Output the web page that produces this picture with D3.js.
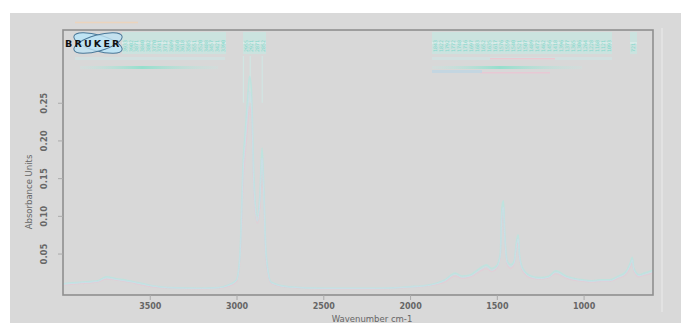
<!DOCTYPE html>
<html><head><meta charset="utf-8">
<script src="https://cdn.jsdelivr.net/npm/d3@7"></script>
<style>html,body{margin:0;padding:0;background:#fff;}svg{display:block;}</style>
</head><body>
<svg id="c" width="686" height="323"></svg>
<script>
// ---- data ----
const wavenumbers = [4000,3900,3800,3750,3700,3600,3500,3400,3200,3100,3050,3000,2980,2960,2950,2935,2925,2915,2900,2880,2865,2853,2845,2830,2800,2700,2500,2200,2000,1900,1800,1740,1700,1650,1600,1560,1530,1500,1480,1470,1462,1455,1440,1420,1400,1385,1377,1370,1350,1300,1250,1200,1160,1100,1000,950,900,850,800,760,730,720,710,680,650,600];
const sampleA = [0.010,0.012,0.014,0.019,0.017,0.013,0.008,0.005,0.004,0.005,0.008,0.015,0.05,0.18,0.21,0.26,0.285,0.27,0.15,0.10,0.13,0.19,0.15,0.05,0.012,0.006,0.004,0.004,0.006,0.008,0.015,0.024,0.02,0.022,0.03,0.035,0.03,0.034,0.05,0.112,0.12,0.08,0.04,0.035,0.04,0.068,0.075,0.05,0.03,0.02,0.018,0.02,0.027,0.02,0.015,0.014,0.015,0.015,0.02,0.025,0.038,0.045,0.03,0.022,0.024,0.028];
const sampleB = [0.008,0.010,0.012,0.016,0.015,0.011,0.006,0.004,0.003,0.004,0.006,0.012,0.04,0.15,0.18,0.22,0.245,0.23,0.13,0.09,0.11,0.16,0.13,0.04,0.010,0.005,0.003,0.003,0.005,0.007,0.012,0.02,0.017,0.019,0.026,0.03,0.026,0.03,0.045,0.095,0.10,0.07,0.035,0.03,0.035,0.058,0.064,0.043,0.026,0.017,0.016,0.018,0.023,0.017,0.013,0.012,0.013,0.013,0.017,0.021,0.032,0.038,0.026,0.019,0.021,0.024];
const xTicks = [3500,3000,2500,2000,1500,1000];
const yTicks = [0.05,0.10,0.15,0.20,0.25];
const peaksBlock1 = ["3933","3902","3871","3840","3802","3770","3741","3712","3689","3650","3618","3585","3551","3520","3488","3457","3421","3390"];
const peaksBlock2 = ["2955","2921","2871","2852"];
const peaksBlock3 = ["1843","1822","1792","1772","1748","1716","1697","1683","1652","1635","1617","1576","1559","1540","1521","1507","1489","1472","1462","1456","1418","1396","1377","1365","1306","1264","1228","1168","1121","1093"];
const peaksBlock4 = ["721"];

// ---- layout ----
const svg = d3.select("#c");
const m = {l:63, t:30, r:653, b:295};
const x = d3.scaleLinear().domain([4000,600]).range([m.l, m.r]);
const y = d3.scaleLinear().domain([-0.005,0.3465]).range([m.b, m.t]);

svg.append("rect").attr("x",10).attr("y",13).attr("width",671).attr("height",310).attr("fill","#d9d9d9");
svg.append("rect").attr("x",m.l).attr("y",m.t).attr("width",m.r-m.l).attr("height",m.b-m.t).attr("fill","#d8d8d8");
svg.append("line").attr("x1",662).attr("x2",662).attr("y1",28).attr("y2",312).attr("stroke","#e2e2e2").attr("stroke-width",2);
svg.append("line").attr("x1",75).attr("x2",138).attr("y1",22.5).attr("y2",22.5).attr("stroke","#ecd4bc").attr("stroke-width",1.5);

// peak label blocks (vertical labels)
function block(arr, x0, x1){
  svg.append("rect").attr("x",x0).attr("y",32).attr("width",x1-x0).attr("height",22).attr("fill","#c6e8e3").attr("opacity",0.7);
  svg.append("line").attr("x1",x0).attr("x2",x1).attr("y1",43).attr("y2",43).attr("stroke","#e6f2f0");
  const step = arr.length>1 ? (x1-x0-6)/(arr.length-1) : 0;
  arr.forEach((t,i)=>{
    const xx = x0+3+i*step;
    svg.append("text").attr("transform",`translate(${xx+1.8},52) rotate(-90)`).attr("font-size",5)
      .attr("font-family","DejaVu Sans Mono, monospace").attr("fill","#7fd8cb").text(t);
  });
}
block(peaksBlock1,122,226); block(peaksBlock2,243,266); block(peaksBlock3,432,612); block(peaksBlock4,630,637);

const defs = svg.append("defs");
const grad = defs.append("linearGradient").attr("id","tg");
grad.append("stop").attr("offset","0%").attr("stop-color","#c8e6e2").attr("stop-opacity",0.3);
grad.append("stop").attr("offset","45%").attr("stop-color","#95dfcd");
grad.append("stop").attr("offset","100%").attr("stop-color","#c8e4e0").attr("stop-opacity",0.3);
svg.append("rect").attr("x",75).attr("y",57).attr("width",150).attr("height",3).attr("fill","#d0e4e4").attr("opacity",0.7);
svg.append("rect").attr("x",80).attr("y",66).attr("width",138).attr("height",3).attr("fill","url(#tg)");
svg.append("rect").attr("x",432).attr("y",57).attr("width",180).attr("height",3).attr("fill","#d0e4e4").attr("opacity",0.7);
svg.append("rect").attr("x",432).attr("y",66).attr("width",150).attr("height",3).attr("fill","url(#tg)");
svg.append("rect").attr("x",490).attr("y",58).attr("width",65).attr("height",1.5).attr("fill","#ecc8d0");
svg.append("rect").attr("x",480).attr("y",72).attr("width",70).attr("height",1.5).attr("fill","#e8c8d4");
svg.append("rect").attr("x",432).attr("y",70).attr("width",50).attr("height",3).attr("fill","#bcd6e6").attr("opacity",0.7);

// faint drop lines under CH peaks
[2960,2921,2852].forEach(w=>{
  svg.append("line").attr("x1",x(w)).attr("x2",x(w)).attr("y1",56).attr("y2",y(0.25)).attr("stroke","#d0e6e3").attr("stroke-width",1.2);
});

// spectra
const line = d3.line().x((d,i)=>x(wavenumbers[i])).y(d=>y(d)).curve(d3.curveMonotoneX);
svg.append("path").datum(sampleB).attr("d",line).attr("fill","none").attr("stroke","#e2ced6").attr("stroke-width",1.2);
svg.append("path").datum(sampleA).attr("d",line).attr("fill","none").attr("stroke","#bfe3de").attr("stroke-width",1.6);
svg.append("path").datum(sampleA.map(v=>v*0.93)).attr("d",line).attr("fill","none").attr("stroke","#cadfe8").attr("stroke-width",1);

// frame
svg.append("rect").attr("x",m.l).attr("y",m.t).attr("width",m.r-m.l).attr("height",m.b-m.t).attr("fill","none").attr("stroke","#8f8f8f").attr("stroke-width",1.6);

// axes
const xa = svg.append("g").attr("transform",`translate(0,${m.b})`).call(d3.axisBottom(x).tickValues(xTicks).tickSize(5).tickSizeOuter(0).tickFormat(d3.format("d")));
xa.select(".domain").remove();
xa.selectAll("line").attr("stroke","#aaa");
xa.selectAll("text").attr("font-family","DejaVu Sans").attr("font-size",8).attr("font-weight","bold").attr("fill","#666").attr("dy","0.8em");
const ya = svg.append("g").attr("transform",`translate(${m.l},0)`).call(d3.axisLeft(y).tickValues(yTicks).tickSize(5).tickSizeOuter(0).tickFormat(d3.format(".2f")));
ya.select(".domain").remove();
ya.selectAll("line").attr("stroke","#aaa");
ya.selectAll("text").attr("font-family","DejaVu Sans").attr("font-size",8.5).attr("font-weight","bold").attr("fill","#666")
  .attr("transform","rotate(-90)").attr("x",0).attr("y",-16).attr("dy","0").attr("text-anchor","middle");

svg.append("text").attr("transform","translate(32,192) rotate(-90)").attr("text-anchor","middle")
  .attr("font-family","DejaVu Sans").attr("font-size",8.5).attr("fill","#666").text("Absorbance Units");
svg.append("text").attr("x",372).attr("y",321.5).attr("text-anchor","middle")
  .attr("font-family","DejaVu Sans").attr("font-size",8.5).attr("fill","#666").text("Wavenumber cm-1");

// BRUKER logo
const lg = svg.append("g");
lg.append("ellipse").attr("cx",98).attr("cy",43).attr("rx",25).attr("ry",8).attr("transform","rotate(16,98,43)").attr("fill","#bfe4f4").attr("stroke","#4a7898").attr("stroke-width",1);
lg.append("ellipse").attr("cx",98).attr("cy",43).attr("rx",25).attr("ry",8).attr("transform","rotate(-16,98,43)").attr("fill","#bfe4f4").attr("fill-opacity",0.8).attr("stroke","#4a7898").attr("stroke-width",1);
lg.append("text").attr("x",65).attr("y",47).attr("font-family","DejaVu Sans").attr("font-weight","bold").attr("font-size",9.5).attr("letter-spacing",2.2).attr("fill","#111").text("BRUKER");
</script>
</body></html>
